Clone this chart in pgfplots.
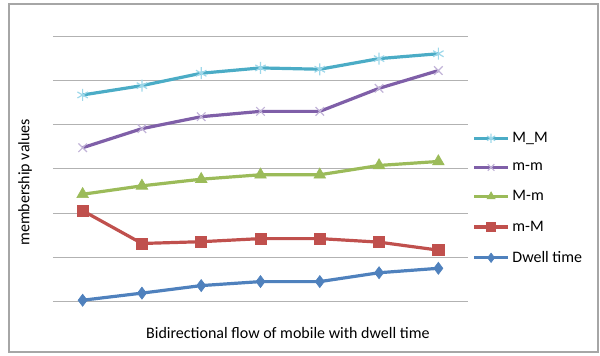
\documentclass[border=0pt]{standalone}
\usepackage{pgfplots}
\pgfplotsset{compat=1.18}
\usepackage{fontspec}
\setmainfont{Carlito}
\definecolor{cMM}{HTML}{4BACC6}
\definecolor{cMMm}{HTML}{9ED8EA}
\definecolor{cmm}{HTML}{7F5FA8}
\definecolor{cmmm}{HTML}{C2B4D8}
\definecolor{cMm}{HTML}{9BBB59}
\definecolor{cmM}{HTML}{C0504D}
\definecolor{cDw}{HTML}{4F81BD}
\begin{document}
\begin{tikzpicture}
\useasboundingbox (0,0) rectangle (450pt,267pt);
\draw[gray!70, line width=0.9pt] (6.75pt,3pt) rectangle (448.5pt,264pt);
\begin{axis}[
  at={(39.75pt,40.5pt)}, anchor=south west,
  scale only axis, width=311.25pt, height=199.5pt,
  xmin=0.5, xmax=7.5, ymin=0, ymax=6,
  axis line style={draw=none},
  tick style={draw=none},
  xtick=\empty, ytick={0,...,5},
  yticklabels={},
  ymajorgrids, major grid style={gray!60, line width=0.75pt},
  extra y ticks={6}, extra y tick labels={},
  extra y tick style={grid style={gray!20, line width=0.75pt}},
  clip=false,
  font=\fontsize{12}{14}\selectfont,
  xlabel={Bidirectional flow of mobile with dwell time},
  xlabel style={at={(axis description cs:0.566,-0.117)}, anchor=center},
  ylabel={membership values},
  ylabel style={at={(axis description cs:-0.0675,0.45)}, anchor=center},
  legend style={at={(axis description cs:1.01,0.39)}, anchor=west, draw=none, fill=none,
    font=\fontsize{12}{14}\selectfont, row sep=9.6pt, inner sep=0pt},
  legend cell align=left,
  legend image code/.code={\draw[mark repeat=2,mark phase=2,mark size=3.5pt] plot coordinates {(0cm,0cm) (0.45cm,0cm) (0.9cm,0cm)};},
  every axis plot/.append style={line width=2.4pt},
]
\addplot[cMM, mark=asterisk, mark size=4.5pt, mark options={cMMm, line width=0.9pt}] coordinates {
 (1,4.67) (2,4.88) (3,5.16) (4,5.28) (5,5.25) (6,5.49) (7,5.60)};
\addlegendentry{M\_M}
\addplot[cmm, mark=x, mark size=4.5pt, mark options={cmmm, line width=0.9pt}] coordinates {
 (1,3.48) (2,3.91) (3,4.18) (4,4.30) (5,4.30) (6,4.82) (7,5.22)};
\addlegendentry{m-m}
\addplot[cMm, mark=triangle*, mark size=5pt, mark options={cMm, line width=0.5pt}] coordinates {
 (1,2.43) (2,2.62) (3,2.77) (4,2.87) (5,2.87) (6,3.08) (7,3.17)};
\addlegendentry{M-m}
\addplot[cmM, mark=square*, mark size=4.2pt, mark options={cmM, line width=0.5pt}] coordinates {
 (1,2.06) (2,1.32) (3,1.36) (4,1.43) (5,1.43) (6,1.35) (7,1.17)};
\addlegendentry{m-M}
\addplot[cDw, mark=diamond*, mark size=4.5pt, mark options={cDw, line width=0.5pt}] coordinates {
 (1,0.04) (2,0.20) (3,0.37) (4,0.46) (5,0.46) (6,0.66) (7,0.76)};
\addlegendentry{Dwell time}
\end{axis}
\end{tikzpicture}
\end{document}
